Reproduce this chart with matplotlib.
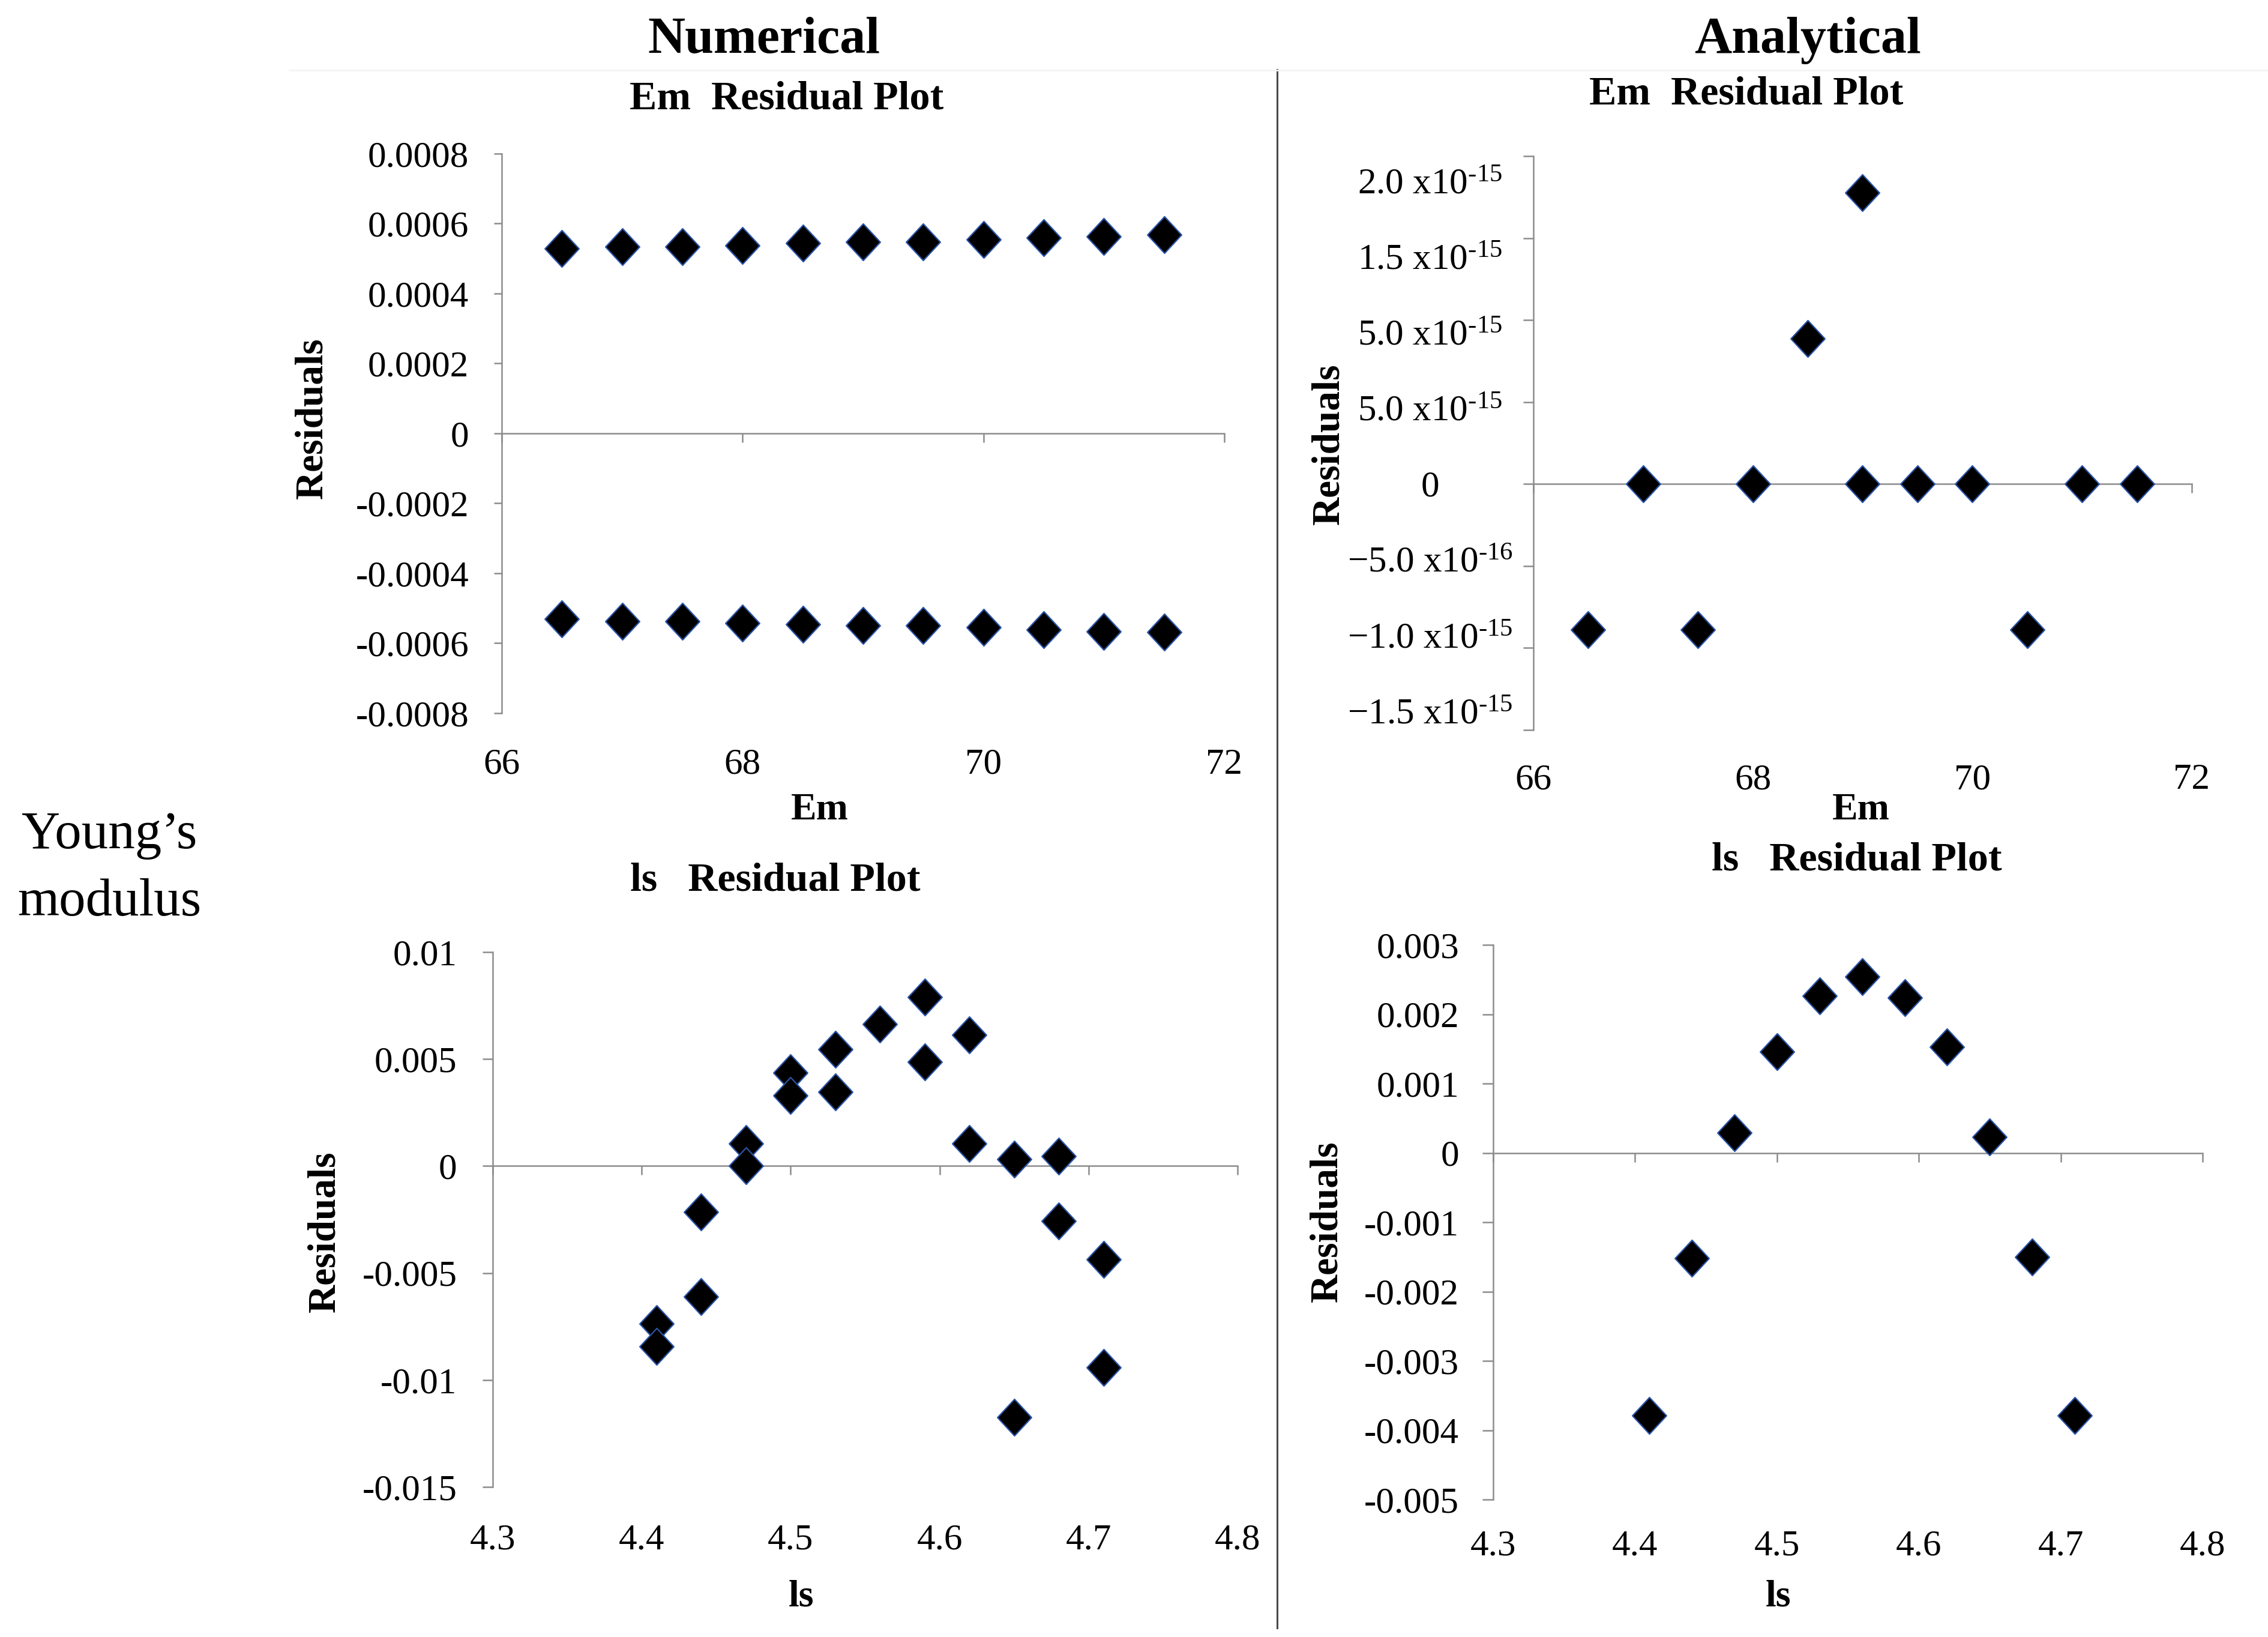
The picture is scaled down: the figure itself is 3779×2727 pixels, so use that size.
import matplotlib
matplotlib.use("Agg")
import matplotlib.pyplot as plt
from matplotlib.path import Path
from matplotlib.lines import Line2D

plt.rcParams['font.family'] = ['Liberation Serif', 'DejaVu Serif']
plt.rcParams['mathtext.fontset'] = 'custom'
plt.rcParams['mathtext.rm'] = 'Liberation Serif'
plt.rcParams['mathtext.it'] = 'Liberation Serif:italic'
plt.rcParams['mathtext.bf'] = 'Liberation Serif:bold'

# ---------------- data ----------------
em_num_x = [66.5, 67, 67.5, 68, 68.5, 69, 69.5, 70, 70.5, 71, 71.5]
em_num_res_pos = [0.000528, 0.000534, 0.000534, 0.000538, 0.000544, 0.000548,
                  0.000548, 0.000554, 0.000560, 0.000563, 0.000569]
em_num_res_neg = [-0.000530, -0.000537, -0.000537, -0.000542, -0.000546, -0.000550,
                  -0.000550, -0.000555, -0.000562, -0.000566, -0.000569]

em_ana_x = [66.5, 67, 67.5, 68, 68.5, 69, 69, 69.5, 70, 70.5, 71, 71.5]
em_ana_res = [-8.88e-16, 0.0, -8.88e-16, 0.0, 8.88e-16, 0.0, 1.776e-15,
              0.0, 0.0, -8.88e-16, 0.0, 0.0]

ls_num_x = [4.41, 4.41, 4.44, 4.44, 4.47, 4.47, 4.50, 4.50, 4.53, 4.53, 4.56,
            4.59, 4.59, 4.62, 4.62, 4.65, 4.65, 4.68, 4.68, 4.71, 4.71]
ls_num_res = [-0.00737, -0.00843, -0.00214, -0.00610, 0.00104, 0.0, 0.00436, 0.00330,
              0.00546, 0.00346, 0.00664, 0.00789, 0.00487, 0.00614, 0.00104,
              0.00033, -0.01175, 0.00047, -0.00257, -0.00436, -0.00942]

ls_ana_x = [4.41, 4.44, 4.47, 4.50, 4.53, 4.56, 4.59, 4.62, 4.65, 4.68, 4.71]
ls_ana_res = [-0.00379, -0.00152, 0.00029, 0.00146, 0.00226, 0.00254, 0.00224,
              0.00153, 0.00023, -0.00150, -0.00379]

em_xticks = [66, 68, 70, 72]
em_xticklabels = ['66', '68', '70', '72']
ls_xticks = [4.3, 4.4, 4.5, 4.6, 4.7, 4.8]
ls_xticklabels = ['4.3', '4.4', '4.5', '4.6', '4.7', '4.8']

em_num_yticks = [-0.0008, -0.0006, -0.0004, -0.0002, 0, 0.0002, 0.0004, 0.0006, 0.0008]
em_num_yticklabels = ['-0.0008', '-0.0006', '-0.0004', '-0.0002', '0',
                      '0.0002', '0.0004', '0.0006', '0.0008']
em_ana_yticks = [-1.5e-15, -1.0e-15, -5e-16, 0, 5e-16, 1.0e-15, 1.5e-15, 2.0e-15]
em_ana_yticklabels = ['\u22121.5 x10$^{\\text{-15}}$', '\u22121.0 x10$^{\\text{-15}}$',
                      '\u22125.0 x10$^{\\text{-16}}$', '0', '5.0 x10$^{\\text{-15}}$',
                      '5.0 x10$^{\\text{-15}}$', '1.5 x10$^{\\text{-15}}$',
                      '2.0 x10$^{\\text{-15}}$']
ls_num_yticks = [-0.015, -0.01, -0.005, 0, 0.005, 0.01]
ls_num_yticklabels = ['-0.015', '-0.01', '-0.005', '0', '0.005', '0.01']
ls_ana_yticks = [-0.005, -0.004, -0.003, -0.002, -0.001, 0, 0.001, 0.002, 0.003]
ls_ana_yticklabels = ['-0.005', '-0.004', '-0.003', '-0.002', '-0.001', '0',
                      '0.001', '0.002', '0.003']

# ---------------- figure ----------------
W, H = 3780, 2727
fig = plt.figure(figsize=(W / 100, H / 100), dpi=100)
fig.patch.set_facecolor('white')

def fx(x):
    return x / W

def fy(y):
    return 1 - y / H

def rect(x0, x1, y0, y1):
    return [fx(x0), fy(y1), fx(x1) - fx(x0), (y1 - y0) / H]

diamond = Path([(0, 1), (0.93, 0), (0, -1), (-0.93, 0), (0, 1)],
               [Path.MOVETO, Path.LINETO, Path.LINETO, Path.LINETO, Path.CLOSEPOLY])

AXC = '#8c8c8c'
TICK_FS = 44

def style(ax, xlim, xticks, xtl, ylim, yticks, ytl, ypad, xpad, yticklen=9.5,
          show_ylabels=True):
    ax.set_xlim(*xlim)
    ax.set_ylim(*ylim)
    for s in ['top', 'right']:
        ax.spines[s].set_visible(False)
    ax.spines['left'].set_color(AXC)
    ax.spines['left'].set_linewidth(1.8)
    ax.spines['bottom'].set_position(('data', 0))
    ax.spines['bottom'].set_color(AXC)
    ax.spines['bottom'].set_linewidth(1.8)
    ax.set_xticks(xticks)
    ax.tick_params(axis='x', direction='out', length=11, width=1.8, color=AXC,
                   labelbottom=False)
    ax.set_yticks(yticks, labels=ytl)
    ax.tick_params(axis='y', direction='out', length=yticklen, width=1.8, color=AXC,
                   labelsize=TICK_FS, pad=ypad, labelleft=show_ylabels)
    sec = ax.secondary_xaxis(0)
    sec.set_xticks(xticks, labels=xtl)
    sec.spines['bottom'].set_visible(False)
    sec.tick_params(axis='x', length=0, labelsize=TICK_FS, pad=xpad)
    ax.set_facecolor('none')

def scatter(ax, x, y):
    ax.plot(x, y, linestyle='none', marker=diamond, markersize=44,
            markerfacecolor='black', markeredgecolor='#2b55a8',
            markeredgewidth=1.6, clip_on=False, zorder=5)

# Top-left: numerical Em
ax1 = fig.add_axes(rect(836, 2040, 256, 1188))
style(ax1, (66, 72), em_xticks, em_xticklabels, (-0.0008, 0.0008),
      em_num_yticks, em_num_yticklabels, ypad=30, xpad=42)
scatter(ax1, em_num_x, em_num_res_pos)
scatter(ax1, em_num_x, em_num_res_neg)

# Top-right: analytical Em
TR = (2555, 3652, 260, 1216)
ax2 = fig.add_axes(rect(*TR))
style(ax2, (66, 72), em_xticks, em_xticklabels, (-1.5e-15, 2.0e-15),
      em_ana_yticks, em_ana_yticklabels, ypad=110, xpad=40, yticklen=12,
      show_ylabels=False)
scatter(ax2, em_ana_x, em_ana_res)

# labels of the analytical Em axis sit on a slightly compressed scale (as in the original)
lab_top_px, lab_bot_px = 301, 1184
step_px = (lab_bot_px - lab_top_px) / 7.0
v_top = 2.0e-15 + (lab_top_px - TR[2]) / step_px * 5e-16
v_bot = 2.0e-15 - (TR[3] - lab_top_px) / step_px * 5e-16
ax2l = fig.add_axes(rect(*TR))
ax2l.set_ylim(v_bot, v_top)
ax2l.set_xlim(66, 72)
ax2l.patch.set_visible(False)
for s in ax2l.spines.values():
    s.set_visible(False)
ax2l.set_xticks([])
ax2l.set_yticks(em_ana_yticks, labels=em_ana_yticklabels, ha='center')
ax2l.tick_params(axis='y', length=0, labelsize=TICK_FS, pad=124)

# Bottom-left: numerical ls
ax3 = fig.add_axes(rect(821, 2062, 1586, 2477))
style(ax3, (4.3, 4.8), ls_xticks, ls_xticklabels, (-0.015, 0.01),
      ls_num_yticks, ls_num_yticklabels, ypad=31, xpad=44, yticklen=12)
scatter(ax3, ls_num_x, ls_num_res)

# Bottom-right: analytical ls
ax4 = fig.add_axes(rect(2488, 3670, 1574, 2498))
style(ax4, (4.3, 4.8), ls_xticks, ls_xticklabels, (-0.005, 0.003),
      ls_ana_yticks, ls_ana_yticklabels, ypad=28, xpad=36, yticklen=13)
scatter(ax4, ls_ana_x, ls_ana_res)

# ---------------- texts ----------------
fig.text(fx(1273), fy(88), 'Numerical', ha='center', va='baseline',
         fontsize=62, fontweight='bold')
fig.text(fx(3012), fy(88), 'Analytical', ha='center', va='baseline',
         fontsize=62, fontweight='bold')

fig.text(fx(1311), fy(181), 'Em  Residual Plot', ha='center', va='baseline',
         fontsize=49, fontweight='bold')
fig.text(fx(2910), fy(174), 'Em  Residual Plot', ha='center', va='baseline',
         fontsize=49, fontweight='bold')
fig.text(fx(1292), fy(1484), 'ls   Residual Plot', ha='center', va='baseline',
         fontsize=49, fontweight='bold')
fig.text(fx(3094), fy(1449), 'ls   Residual Plot', ha='center', va='baseline',
         fontsize=49, fontweight='bold')

for (x, y) in [(520, 697), (2214, 740), (541, 2052), (2211, 2035)]:
    fig.text(fx(x), fy(y), 'Residuals', ha='center', va='center', rotation=90,
             fontsize=47, fontweight='bold')

fig.text(fx(1366), fy(1365), 'Em', ha='center', va='baseline', fontsize=46, fontweight='bold')
fig.text(fx(3101), fy(1365), 'Em', ha='center', va='baseline', fontsize=46, fontweight='bold')
fig.text(fx(1335), fy(2675), 'ls', ha='center', va='baseline', fontsize=46, fontweight='bold')
fig.text(fx(2963), fy(2675), 'ls', ha='center', va='baseline', fontsize=46, fontweight='bold')

fig.text(fx(182), fy(1413), 'Young\u2019s', ha='center', va='baseline', fontsize=64)
fig.text(fx(182), fy(1525), 'modulus', ha='center', va='baseline', fontsize=64)

# divider lines
fig.add_artist(Line2D([fx(2128), fx(2128)], [fy(116), fy(2712)], color='#4a4a4a',
                      linewidth=2.2))
fig.add_artist(Line2D([fx(482), fx(3780)], [fy(117), fy(117)], color='#f4f4f4',
                      linewidth=2.0))

fig.savefig('out.png', dpi=100, facecolor='white')
